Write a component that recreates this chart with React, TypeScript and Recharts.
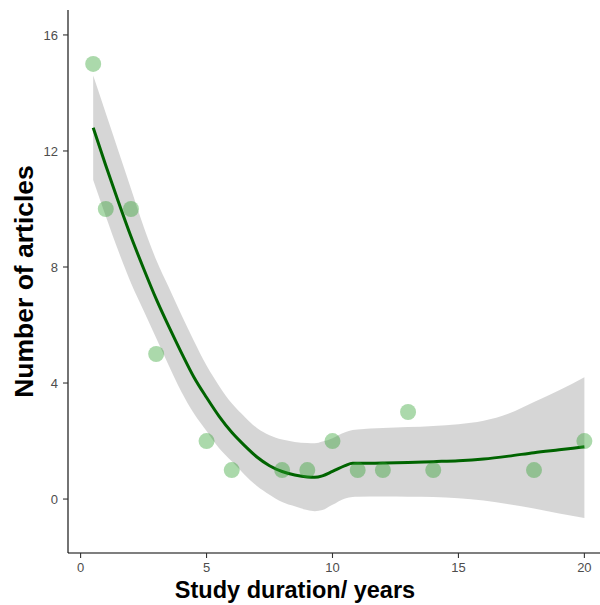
import React from "react";
import { ComposedChart, XAxis, YAxis, Area, Line, Scatter, Label } from "recharts";

const pointX = [0.5, 1, 2, 3, 5, 6, 8, 9, 10, 11, 12, 13, 14, 18, 20];
const pointY = [15, 10, 10, 5, 2, 1, 1, 1, 2, 1, 1, 3, 1, 1, 2];

const fitX = [0.5, 1, 1.5, 2, 2.5, 3, 3.5, 4, 4.5, 5, 5.5, 6, 6.5, 7, 7.5, 8, 8.5, 9, 9.3, 9.6, 10, 10.5, 10.8, 11, 12, 13, 14, 15, 16, 17, 18, 19, 20];
const fitY = [12.8, 11.5, 10.25, 9.05, 7.95, 6.9, 5.95, 5.05, 4.2, 3.5, 2.85, 2.3, 1.85, 1.45, 1.15, 0.95, 0.83, 0.76, 0.75, 0.8, 0.95, 1.15, 1.23, 1.23, 1.24, 1.26, 1.29, 1.32, 1.38, 1.48, 1.6, 1.7, 1.8];
const fitUpper = [14.6, 13.3, 12.0, 10.7, 9.4, 8.25, 7.3, 6.35, 5.45, 4.6, 3.9, 3.3, 2.85, 2.45, 2.2, 2.05, 1.97, 1.93, 1.92, 1.98, 2.1, 2.3, 2.38, 2.4, 2.45, 2.48, 2.52, 2.58, 2.7, 2.95, 3.35, 3.75, 4.2];
const fitLower = [11.0, 9.75, 8.55, 7.45, 6.5, 5.55, 4.6, 3.7, 2.95, 2.35, 1.75, 1.3, 0.85, 0.45, 0.15, -0.1, -0.25, -0.38, -0.42, -0.38, -0.2, 0.02, 0.07, 0.08, 0.09, 0.08, 0.07, 0.03, -0.05, -0.18, -0.33, -0.5, -0.65];

const xTicks = [0, 5, 10, 15, 20];
const yTicks = [0, 4, 8, 12, 16];

const points = pointX.map((x, i) => ({ x, y: pointY[i] }));
const fit = fitX.map((x, i) => ({ x, fit: fitY[i], band: [fitLower[i], fitUpper[i]] }));

const FONT = "'Liberation Sans', Arial, sans-serif";

const Dot = (props: any) => (
  <circle cx={props.cx} cy={props.cy} r={8} fill="#2ca02c" fillOpacity={0.4} />
);

export default function App() {
  return (
    <div style={{ position: "absolute", left: 0, top: 0, width: 600, height: 605, background: "#fff" }}>
      <ComposedChart
        width={600}
        height={605}
        data={fit}
        margin={{ top: 10, right: 0, bottom: 0, left: 0 }}
        style={{ fontFamily: FONT }}
      >
        <XAxis
          dataKey="x"
          type="number"
          domain={[-0.5, 20.62]}
          ticks={xTicks}
          allowDataOverflow
          height={52}
          tickSize={5}
          tickMargin={5}
          stroke="#000"
          axisLine={{ stroke: "#000", strokeWidth: 1.1 }}
          tickLine={{ stroke: "#333", strokeWidth: 1.1 }}
          tick={{ fill: "#4d4d4d", fontSize: 13, fontFamily: FONT }}
        >
          <Label
            content={({ viewBox }: any) => (
              <text
                x={viewBox.x + 227}
                y={viewBox.y + 45}
                textAnchor="middle"
                fontSize={23.5}
                fontWeight="bold"
                fontFamily={FONT}
                fill="#000"
              >
                Study duration/ years
              </text>
            )}
          />
        </XAxis>
        <YAxis
          type="number"
          domain={[-1.86, 16.86]}
          ticks={yTicks}
          allowDataOverflow
          width={68}
          tickSize={5}
          tickMargin={5}
          axisLine={{ stroke: "#000", strokeWidth: 1.1 }}
          tickLine={{ stroke: "#333", strokeWidth: 1.1 }}
          tick={{ fill: "#4d4d4d", fontSize: 13, fontFamily: FONT }}
        >
          <Label
            content={({ viewBox }: any) => {
              const cx = viewBox.x + 33;
              const cy = viewBox.y + viewBox.height / 2;
              return (
                <text
                  x={cx}
                  y={cy}
                  transform={`rotate(-90 ${cx} ${cy})`}
                  textAnchor="middle"
                  fontSize={26.5}
                  fontWeight="bold"
                  fontFamily={FONT}
                  fill="#000"
                >
                  Number of articles
                </text>
              );
            }}
          />
        </YAxis>
        <Scatter data={points} dataKey="y" shape={Dot} isAnimationActive={false} />
        <Area
          dataKey="band"
          type="monotone"
          stroke="none"
          fill="#999999"
          fillOpacity={0.4}
          isAnimationActive={false}
          activeDot={false}
        />
        <Line
          dataKey="fit"
          type="monotone"
          stroke="#006400"
          strokeWidth={3}
          dot={false}
          activeDot={false}
          isAnimationActive={false}
        />
      </ComposedChart>
    </div>
  );
}
